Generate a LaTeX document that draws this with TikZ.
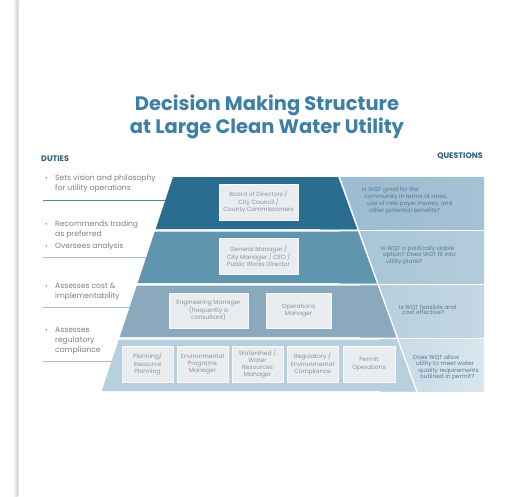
\documentclass[tikz,border=0pt]{standalone}
\usepackage{fontspec}
\setmainfont{Poppins}[Ligatures=NoCommon]
\usetikzlibrary{shadings}
\definecolor{titleC}{HTML}{3E80A5}
\definecolor{headC}{HTML}{2F5D7C}
\definecolor{dutyC}{HTML}{7A8085}
\definecolor{tA}{HTML}{2A6D91}
\definecolor{tB}{HTML}{6095B0}
\definecolor{tC}{HTML}{8AA9BC}
\definecolor{tD}{HTML}{B7D0DE}
\definecolor{qA}{HTML}{9ABBD0}
\definecolor{qAr}{HTML}{A4C2D5}
\definecolor{qB}{HTML}{A8C4D6}
\definecolor{qBr}{HTML}{B3CCDB}
\definecolor{qC}{HTML}{B6CEDC}
\definecolor{qCr}{HTML}{C3D7E3}
\definecolor{qD}{HTML}{C6D9E5}
\definecolor{qDr}{HTML}{D9E6EE}
\definecolor{boxC}{HTML}{E9EDF0}
\definecolor{boxT}{HTML}{8A939A}
\definecolor{qT}{HTML}{58798E}
\definecolor{lineA}{HTML}{5A83A0}
\definecolor{lineB}{HTML}{A9BCCA}
\tikzset{
  titletext/.style={text=titleC,font=\fontsize{19.5}{23.5}\selectfont\bfseries,align=center,inner sep=0},
  headtext/.style={text=headC,font=\fontsize{8}{9}\selectfont\bfseries,inner sep=0},
  dutytext/.style={text=dutyC,font=\fontsize{7.6}{10}\selectfont,align=left,inner sep=0,anchor=west},
  bullet/.style={text=dutyC,font=\fontsize{6.5}{8}\selectfont,inner sep=0},
  orgbox/.style={fill=boxC,draw=white!60!boxC,line width=0.5pt,text=boxT,font=\fontsize{6.0}{7.2}\selectfont,align=center,inner sep=0},
  qtext/.style={text=qT,font=\fontsize{5.8}{5.3}\selectfont,align=left,inner sep=0,anchor=west},
}
\begin{document}
\begin{tikzpicture}[x=1pt,y=-1pt]
\useasboundingbox (0,0) rectangle (505,496);
\fill[white] (0,0) rectangle (505,496);
% page edge shadow
\shade[left color=white,right color=black!18] (13,0) rectangle (17.5,496);
\fill[black!10] (17.5,0) rectangle (18.2,496);

% title
\node[titletext] (title) at (267,117) {Decision Making Structure\\at Large Clean Water Utility};

% headers
\node[headtext,anchor=west] (duties) at (41,159) {DUTIES};
\node[headtext,anchor=east] (questions) at (483,156) {QUESTIONS};

% question panels
\shade[left color=qA,right color=qAr] (320,177) rectangle (484,229);
\shade[left color=qB,right color=qBr] (340,231.5) rectangle (484,283);
\shade[left color=qC,right color=qCr] (360,285.5) rectangle (484,337);
\shade[left color=qD,right color=qDr] (380,339.5) rectangle (484,391);

% pyramid tiers
\fill[tA] (173,177) -- (338,177) -- (357.0,229) -- (155.7,229) -- cycle;
\fill[tB] (154.8,231.5) -- (357.9,231.5) -- (376.8,283) -- (137.7,283) -- cycle;
\fill[tC] (136.8,285.5) -- (377.7,285.5) -- (396.6,337) -- (119.7,337) -- cycle;
\fill[tD] (118.8,339.5) -- (397.5,339.5) -- (416.3,391) -- (101.7,391) -- cycle;
% white diagonal separator
\draw[white,line width=1.3pt] (338.6,175) -- (417.3,393);

% duty separator lines
\draw[lineA,line width=0.6pt] (43,200) -- (165.3,200);
\draw[lineB,line width=0.6pt] (43,257) -- (146.3,257);
\draw[lineB,line width=0.6pt] (43,307) -- (129.7,307);
\draw[lineB,line width=0.6pt] (43,361) -- (111.7,361);

% duties
\node[bullet] (b1) at (46.5,179) {•};
\node[dutytext] (d1) at (55,184) {Sets vision and philosophy\\for utility operations};
\node[bullet] (b2) at (46.5,225) {•};
\node[dutytext] (d2) at (55,230) {Recommends trading\\as preferred};
\node[bullet] (b3) at (46.5,247) {•};
\node[dutytext] (d3) at (55,247) {Oversees analysis};
\node[bullet] (b4) at (46.5,287) {•};
\node[dutytext] (d4) at (55,291.5) {Assesses cost \&\\implementability};
\node[bullet] (b5) at (46.5,331) {•};
\node[dutytext] (d5) at (55,341) {Assesses\\regulatory\\compliance};

% org boxes
\node[orgbox,minimum width=79pt,minimum height=36pt] (board) at (258.5,202) {Board of Directors /\\City Council /\\County Commissioners};
\node[orgbox,minimum width=79pt,minimum height=36pt] (gm) at (258.5,256) {General Manager /\\City Manager / CEO /\\Public Works Director};
\node[orgbox,minimum width=79pt,minimum height=35pt] (eng) at (208.5,310.5) {Engineering Manager\\(frequently a\\consultant)};
\node[orgbox,minimum width=65pt,minimum height=35pt] (ops) at (298.5,310.5) {Operations\\Manager};
\node[orgbox,minimum width=51pt,minimum height=36pt] (plan) at (147.5,364) {Planning/\\Resource\\Planning};
\node[orgbox,minimum width=51pt,minimum height=36pt] (env) at (202.5,364) {Environmental\\Programs\\Manager};
\node[orgbox,minimum width=51pt,minimum height=36pt] (ws) at (257.5,364) {Watershed /\\Water\\Resources\\Manager};
\node[orgbox,minimum width=51pt,minimum height=36pt] (reg) at (312.5,364) {Regulatory /\\Environmental\\Compliance};
\node[orgbox,minimum width=52pt,minimum height=36pt] (permit) at (369,364) {Permit\\Operations};

% questions
\node[qtext] (q1) at (362,200.5) {Is WQT good for the\\\hspace*{2pt}community in terms of rates,\\\hspace*{5pt}use of rate payer money, and\\\hspace*{7pt}other potential benefits?};
\node[qtext] (q2) at (381,255.5) {Is WQT a politically viable\\\hspace*{2pt}option? Does WQT fit into\\\hspace*{5pt}utility plans?};
\node[qtext] (q3) at (399,310) {Is WQT feasible and\\\hspace*{3pt}cost effective?};
\node[qtext] (q4) at (413,368) {Does WQT allow\\\hspace*{3pt}utility to meet water\\\hspace*{5pt}quality requirements\\\hspace*{7pt}outlined in permit?};
\end{tikzpicture}
\end{document}
